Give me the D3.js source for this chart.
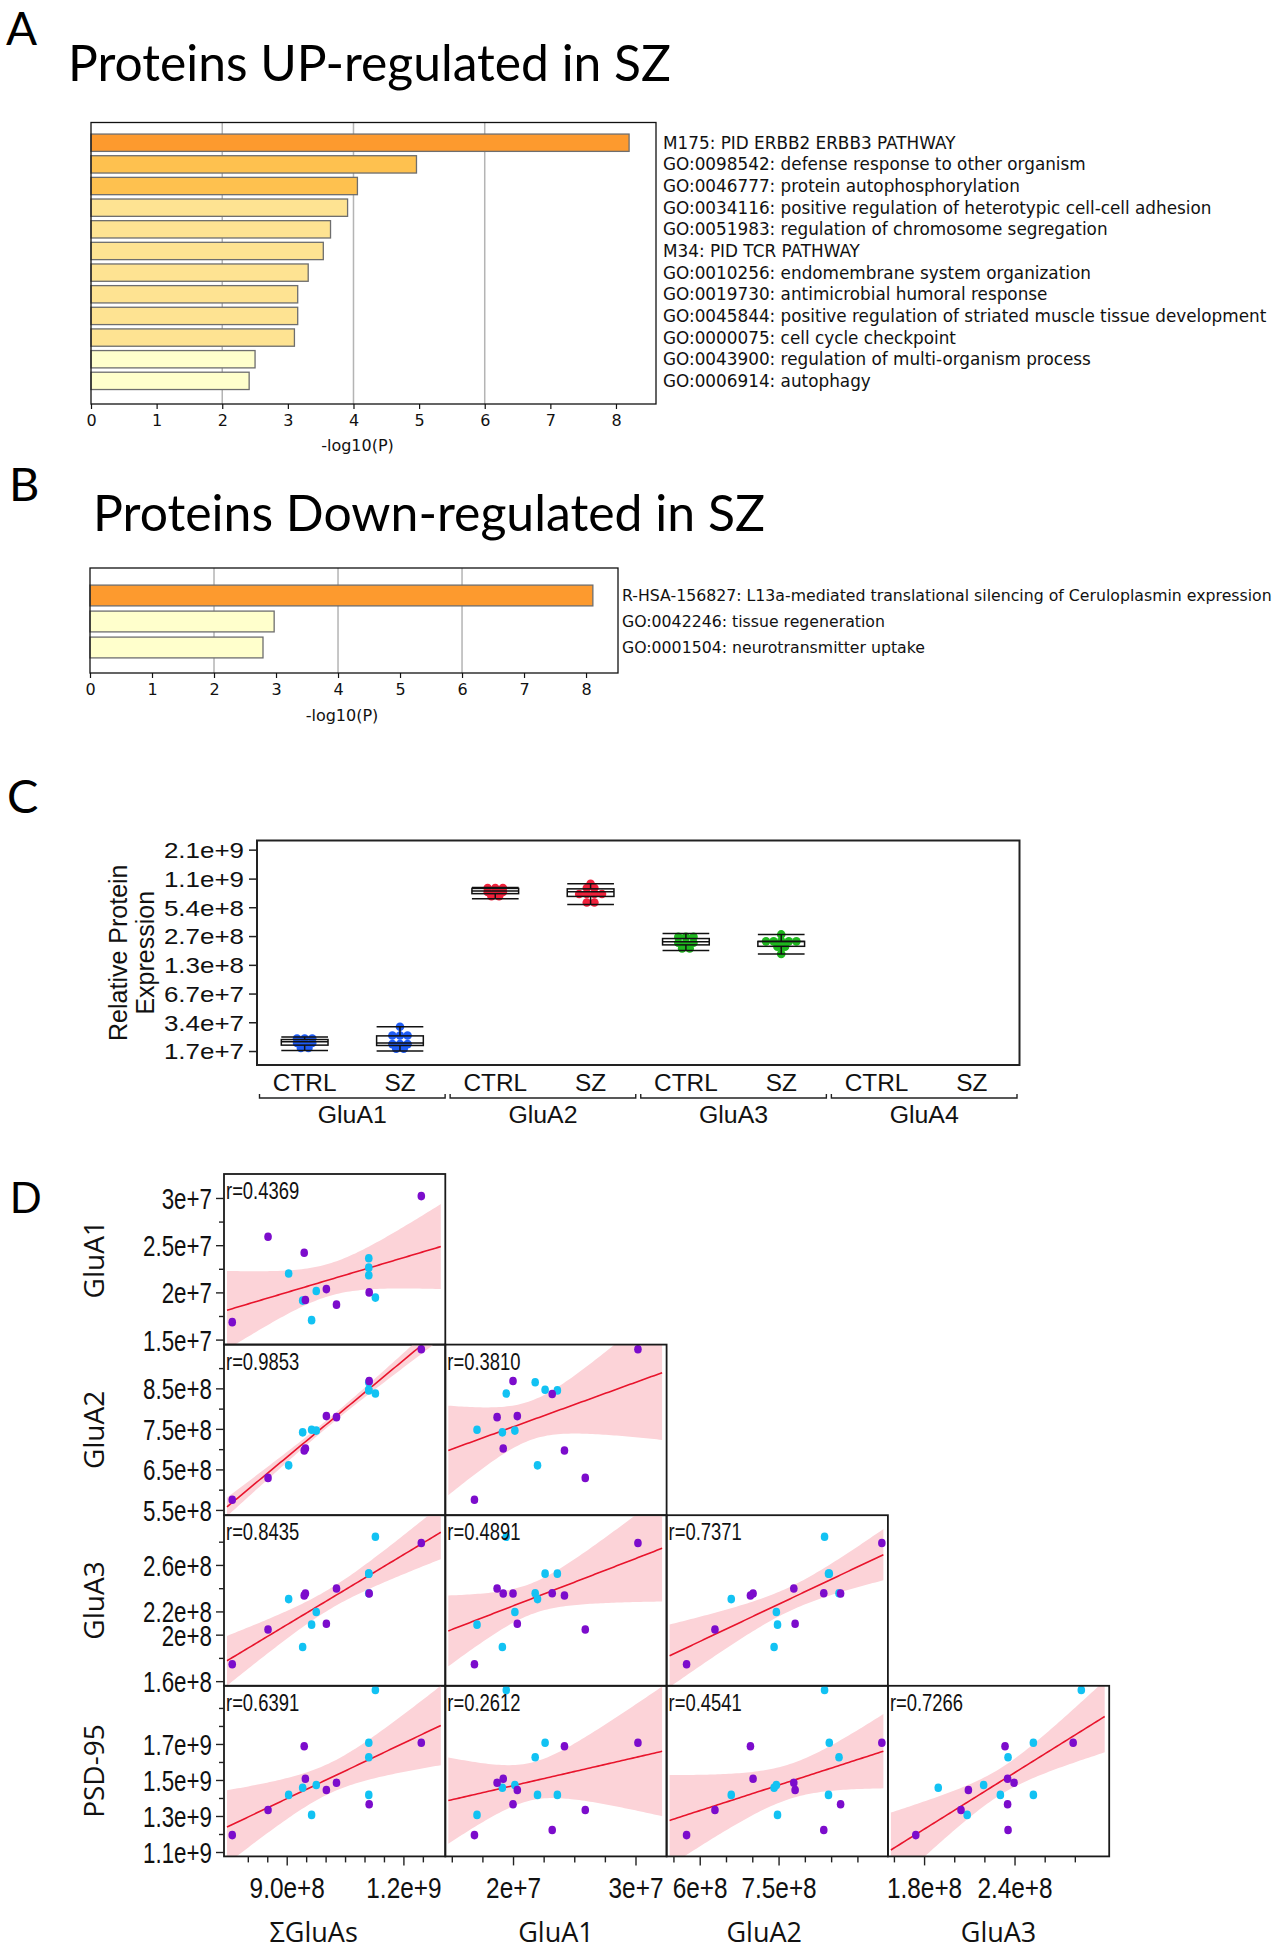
<!DOCTYPE html>
<html>
<head>
<meta charset="utf-8">
<script src="https://cdn.jsdelivr.net/npm/d3@7/dist/d3.min.js"></script>
<style>
html,body{margin:0;padding:0;background:#fff;}
svg{display:block;}
</style>
</head>
<body>
<svg id="fig" width="1277" height="1950" xmlns="http://www.w3.org/2000/svg"></svg>
<script>
// ===================== DATA =====================
const upTerms = [
  "M175: PID ERBB2 ERBB3 PATHWAY",
  "GO:0098542: defense response to other organism",
  "GO:0046777: protein autophosphorylation",
  "GO:0034116: positive regulation of heterotypic cell-cell adhesion",
  "GO:0051983: regulation of chromosome segregation",
  "M34: PID TCR PATHWAY",
  "GO:0010256: endomembrane system organization",
  "GO:0019730: antimicrobial humoral response",
  "GO:0045844: positive regulation of striated muscle tissue development",
  "GO:0000075: cell cycle checkpoint",
  "GO:0043900: regulation of multi-organism process",
  "GO:0006914: autophagy"
];
const upLogP = [8.20, 4.96, 4.06, 3.91, 3.65, 3.54, 3.31, 3.15, 3.15, 3.10, 2.50, 2.41];

const downTerms = [
  "R-HSA-156827: L13a-mediated translational silencing of Ceruloplasmin expression",
  "GO:0042246: tissue regeneration",
  "GO:0001504: neurotransmitter uptake"
];
const downLogP = [8.11, 2.97, 2.79];

const enrichTicks = [0, 1, 2, 3, 4, 5, 6, 7, 8];
const enrichGrid = [2, 4, 6];

// per-sample measurements (9 SZ, 8 CTRL); null = not shown
const sampleGroup = ["SZ","SZ","SZ","SZ","SZ","SZ","SZ","SZ","SZ",
                     "CTRL","CTRL","CTRL","CTRL","CTRL","CTRL","CTRL","CTRL"];
const sumGluAs = [7.60e8, 1.028e9, 9.48e8, 1.112e9, 1.002e9, null, 9.45e8, 8.52e8, 1.246e9,
                  9.64e8, 9.41e8, 1.128e9, 9.76e8, 1.111e9, 9.05e8, 1.111e9, 1.111e9];
const gluA1 = [1.685e7, 1.870e7, 1.920e7, 2.000e7, 2.035e7, 2.320e7, 2.420e7, 2.590e7, 3.020e7,
               1.706e7, 1.913e7, 1.945e7, 2.015e7, 2.181e7, 2.200e7, 2.262e7, 2.362e7];
const gluA2 = [5.75e8, 7.79e8, 7.015e8, 8.68e8, 7.815e8, 8.36e8, 6.965e8, 6.29e8, 9.465e8,
               7.48e8, 7.415e8, 8.375e8, 7.458e8, 8.65e8, 6.60e8, 8.465e8, 8.45e8];
const gluA3 = [1.745e8, 2.397e8, 2.354e8, 2.354e8, 2.094e8, 2.357e8, 2.337e8, 2.045e8, 2.789e8,
               2.086e8, 1.894e8, 2.843e8, 2.195e8, 2.357e8, 2.306e8, 2.525e8, 2.525e8];
const psd95 = [1.194e9, 1.485e9, 1.507e9, 1.365e9, 1.444e9, 1.222e9, 1.687e9, 1.333e9, 1.707e9,
               1.306e9, 1.457e9, 2.0e9, 1.472e9, 1.626e9, 1.417e9, 1.707e9, 1.417e9];

// panel C
const cProteins = ["GluA1", "GluA2", "GluA3", "GluA4"];
const cConditions = ["CTRL", "SZ"];
const cTickValues = [1.68e7, 3.36e7, 6.71e7, 1.34e8, 2.68e8, 5.37e8, 1.07e9, 2.15e9];
const cTickLabels = ["1.7e+7", "3.4e+7", "6.7e+7", "1.3e+8", "2.7e+8", "5.4e+8", "1.1e+9", "2.1e+9"];

// panel D
const dRowVars = ["GluA1", "GluA2", "GluA3", "PSD-95"];
const dColVars = ["ΣGluAs", "GluA1", "GluA2", "GluA3"];
const rLabels = [["r=0.4369"],
                 ["r=0.9853", "r=0.3810"],
                 ["r=0.8435", "r=0.4891", "r=0.7371"],
                 ["r=0.6391", "r=0.2612", "r=0.4541", "r=0.7266"]];
const sumTicks = [8e8, 8.5e8, 9e8, 9.5e8, 1e9, 1.05e9, 1.1e9, 1.15e9, 1.2e9, 1.25e9];
const sumColLabels = ["", "", "9.0e+8", "", "", "", "", "", "1.2e+9", ""];
const a1Ticks = [1.5e7, 1.75e7, 2e7, 2.25e7, 2.5e7, 2.75e7, 3e7];
const a1RowLabels = ["1.5e+7", "", "2e+7", "", "2.5e+7", "", "3e+7"];
const a1ColLabels = ["", "", "2e+7", "", "", "", "3e+7"];
const a2Ticks = [5.5e8, 6e8, 6.5e8, 7e8, 7.5e8, 8e8, 8.5e8, 9e8];
const a2RowLabels = ["5.5e+8", "", "6.5e+8", "", "7.5e+8", "", "8.5e+8", ""];
const a2ColLabels = ["", "6e+8", "", "", "7.5e+8", "", "", ""];
const a3Ticks = [1.6e8, 1.8e8, 2e8, 2.2e8, 2.4e8, 2.6e8, 2.8e8];
const a3RowLabels = ["1.6e+8", "", "2e+8", "2.2e+8", "", "2.6e+8", ""];
const a3ColLabels = ["", "1.8e+8", "", "", "2.4e+8", "", ""];
const psdTicks = [1.1e9, 1.2e9, 1.3e9, 1.4e9, 1.5e9, 1.6e9, 1.7e9, 1.8e9, 1.9e9];
const psdRowLabels = ["1.1e+9", "", "1.3e+9", "", "1.5e+9", "", "1.7e+9", "", ""];

// ===================== STYLE / HELPERS =====================
const TITLE_FONT = "Lato, 'Open Sans', sans-serif";
const DV_FONT = "'DejaVu Sans', sans-serif";
const ARIAL = "'Liberation Sans', Arial, Helvetica, sans-serif";
const svg = d3.select("#fig");

function scaleWidth(sel, k) {
  sel.each(function () {
    const w = this.getComputedTextLength();
    if (w > 0) {
      this.setAttribute("textLength", w * k);
      this.setAttribute("lengthAdjust", "spacingAndGlyphs");
    }
  });
}

// ===================== LETTERS & TITLES =====================
function letter(t, x, y, font, size) {
  svg.append("text").attr("x", x).attr("y", y).attr("font-family", font)
    .attr("font-size", size).attr("fill", "#000").text(t);
}
letter("A", 6, 45, TITLE_FONT, 46);
letter("B", 9, 501, TITLE_FONT, 47);
letter("C", 7, 813, TITLE_FONT, 47);
letter("D", 10, 1213, ARIAL, 44);

function title(t, x, y, len) {
  svg.append("text").attr("x", x).attr("y", y).attr("font-family", TITLE_FONT)
    .attr("font-size", 50).attr("fill", "#000")
    .attr("textLength", len).attr("lengthAdjust", "spacingAndGlyphs").text(t);
}
title("Proteins UP-regulated in SZ", 68, 81, 603);
title("Proteins Down-regulated in SZ", 93, 531, 672);

// ===================== ENRICHMENT PANELS =====================
const enrichColor = d3.scaleThreshold().domain([3, 4, 6])
  .range(["#ffffcc", "#fee392", "#fec14f", "#fd9a2e"]);

function drawEnrich(terms, vals, L) {
  const g = svg.append("g");
  const x = d3.scaleLinear().domain([0, d3.max(vals) * 1.05]).range([L.x0, L.x1]);
  const y = d3.scaleBand().domain(terms).range(L.band).paddingInner(0.2).paddingOuter(0.1);

  g.selectAll("line.grid").data(enrichGrid).join("line").attr("class", "grid")
    .attr("x1", d => x(d)).attr("x2", d => x(d)).attr("y1", L.y0).attr("y2", L.y1)
    .attr("stroke", "#b4b4b4").attr("stroke-width", 1.5);

  g.selectAll("rect.bar").data(vals).join("rect").attr("class", "bar")
    .attr("x", x(0)).attr("y", (d, i) => y(terms[i]))
    .attr("width", d => x(d) - x(0)).attr("height", y.bandwidth())
    .attr("fill", d => enrichColor(d)).attr("stroke", "#6e6e6e").attr("stroke-width", 1.3);

  g.append("rect").attr("x", L.x0).attr("y", L.y0).attr("width", L.x1 - L.x0)
    .attr("height", L.y1 - L.y0).attr("fill", "none").attr("stroke", "#111").attr("stroke-width", 1.3);

  const ax = g.append("g").attr("transform", `translate(0,${L.y1})`)
    .call(d3.axisBottom(x).tickValues(enrichTicks).tickSize(5).tickPadding(6).tickFormat(d3.format("d")));
  ax.select(".domain").remove();
  ax.selectAll(".tick line").attr("stroke", "#111").attr("stroke-width", 1.2);
  ax.selectAll("text").attr("font-family", DV_FONT).attr("font-size", L.tickSize).attr("fill", "#111");

  g.append("text").attr("x", (x(0) + x(8)) / 2 + 4).attr("y", L.xlabY).attr("text-anchor", "middle")
    .attr("font-family", DV_FONT).attr("font-size", L.tickSize).attr("fill", "#111").text("-log10(P)");

  const labs = g.selectAll("text.term").data(terms).join("text").attr("class", "term")
    .attr("x", L.labX).attr("y", d => y(d) + y.bandwidth() / 2).attr("dy", "0.36em")
    .attr("font-family", DV_FONT).attr("font-size", 16).attr("fill", "#111").text(d => d);
  let maxW = 0;
  labs.each(function () { maxW = Math.max(maxW, this.getComputedTextLength()); });
  labs.attr("font-size", 16 * L.labW / maxW);
}

drawEnrich(upTerms, upLogP, {
  x0: 91, x1: 656, y0: 122.5, y1: 404, band: [131.9, 391.7],
  labX: 663, labW: 604, xlabY: 451, tickSize: 16
});
drawEnrich(downTerms, downLogP, {
  x0: 90, x1: 618, y0: 568, y1: 673, band: [582.5, 660.5],
  labX: 622, labW: 650, xlabY: 721, tickSize: 16
});

// ===================== PANEL C =====================
(function () {
  const B = { x0: 257, x1: 1019.5, y0: 840.5, y1: 1065 };
  const g = svg.append("g");
  const cats = [];
  cProteins.forEach(p => cConditions.forEach(c => cats.push(p + "|" + c)));
  const x = d3.scaleBand().domain(cats).range([B.x0, B.x1]);
  const y = d3.scaleLog().base(2).domain([1.2e7, 2.68e9]).range([B.y1, B.y0]);
  const protVals = { GluA1: gluA1, GluA2: gluA2, GluA3: gluA3 };
  const protColor = { GluA1: "#1f5cf5", GluA2: "#f0213b", GluA3: "#1fb81f" };
  const bw = x.bandwidth(), boxW = bw * 0.49;

  Object.keys(protVals).forEach(p => {
    cConditions.forEach(c => {
      const vals = protVals[p].filter((v, i) => sampleGroup[i] === c && v != null);
      const cx = x(p + "|" + c) + bw / 2;
      const sorted = vals.slice().sort((a, b) => a - b);
      const pts = [];
      let cluster = [];
      const flush = () => {
        const cy = d3.mean(cluster, v => y(v));
        cluster.forEach((v, k) => pts.push({ v, cy, dx: (k - (cluster.length - 1) / 2) * 7.6 }));
        cluster = [];
      };
      sorted.forEach(v => {
        if (cluster.length && Math.abs(y(cluster[0]) - y(v)) > 5) flush();
        cluster.push(v);
      });
      flush();
      g.selectAll(null).data(pts).join("circle")
        .attr("cx", d => cx + d.dx).attr("cy", d => d.cy).attr("r", 4.3)
        .attr("fill", protColor[p]);

      const q1 = d3.quantile(sorted, 0.25), q2 = d3.quantile(sorted, 0.5), q3 = d3.quantile(sorted, 0.75);
      const mn = d3.min(sorted), mx = d3.max(sorted);
      const bg = g.append("g").attr("stroke", "#111").attr("stroke-width", 1.5).attr("fill", "none");
      bg.append("line").attr("x1", cx).attr("x2", cx).attr("y1", y(mx)).attr("y2", y(q3));
      bg.append("line").attr("x1", cx).attr("x2", cx).attr("y1", y(q1)).attr("y2", y(mn));
      [mn, mx, q2].forEach(v => bg.append("line").attr("x1", cx - boxW / 2).attr("x2", cx + boxW / 2)
        .attr("y1", y(v)).attr("y2", y(v)));
      bg.append("rect").attr("x", cx - boxW / 2).attr("width", boxW)
        .attr("y", y(q3)).attr("height", y(q1) - y(q3));
    });
  });

  g.append("rect").attr("x", B.x0).attr("y", B.y0).attr("width", B.x1 - B.x0).attr("height", B.y1 - B.y0)
    .attr("fill", "none").attr("stroke", "#222").attr("stroke-width", 2);

  const ay = g.append("g").attr("transform", `translate(${B.x0},0)`)
    .call(d3.axisLeft(y).tickValues(cTickValues).tickSize(8).tickPadding(5)
      .tickFormat((d, i) => cTickLabels[i]));
  ay.select(".domain").remove();
  ay.selectAll(".tick line").attr("stroke", "#222").attr("stroke-width", 1.5);
  ay.selectAll("text").attr("font-family", ARIAL).attr("font-size", 22).attr("fill", "#111")
    .attr("dy", "0.36em");
  scaleWidth(ay.selectAll("text"), 1.18);

  const ax = g.append("g").attr("transform", `translate(0,${B.y1})`)
    .call(d3.axisBottom(x).tickSize(0).tickPadding(10).tickFormat(d => d.split("|")[1]));
  ax.select(".domain").remove();
  ax.selectAll("text").attr("font-family", ARIAL).attr("font-size", 23).attr("fill", "#111");
  scaleWidth(ax.selectAll("text"), 1.06);

  cProteins.forEach(p => {
    const a = x(p + "|CTRL") + 2.5, b = x(p + "|SZ") + bw - 2.5, yb = 1098;
    g.append("path").attr("d", `M${a},${yb - 4}V${yb}H${b}V${yb - 4}`)
      .attr("fill", "none").attr("stroke", "#222").attr("stroke-width", 1.4);
    const t = g.append("text").attr("x", (a + b) / 2).attr("y", 1123).attr("text-anchor", "middle")
      .attr("font-family", ARIAL).attr("font-size", 23).attr("fill", "#111").text(p);
    scaleWidth(t, 1.08);
  });

  const yl = g.append("g").attr("font-family", ARIAL).attr("font-size", 25).attr("fill", "#111")
    .attr("text-anchor", "middle");
  yl.append("text").attr("transform", `translate(127,${(B.y0 + B.y1) / 2}) rotate(-90)`).text("Relative Protein");
  yl.append("text").attr("transform", `translate(154,${(B.y0 + B.y1) / 2}) rotate(-90)`).text("Expression");
})();

// ===================== PANEL D =====================
(function () {
  const D = { x0: 224, y0: 1174, cw: 221.3, ch: 170.6 };
  const g = svg.append("g");
  const varValues = { "ΣGluAs": sumGluAs, "GluA1": gluA1, "GluA2": gluA2, "GluA3": gluA3, "PSD-95": psd95 };
  const varDomain = {
    "ΣGluAs": [7.388e8, 1.3077e9], "GluA1": [1.447e7, 3.254e7], "GluA2": [5.37e8, 9.58e8],
    "GluA3": [1.56e8, 3.028e8], "PSD-95": [1.0756e9, 2.023e9]
  };
  const tTable = { 13: 2.160, 14: 2.145, 15: 2.131, 16: 2.120 };
  const colX = j => D.x0 + j * D.cw;
  const rowY = i => D.y0 + i * D.ch;
  const xs = dColVars.map((v, j) => d3.scaleLinear().domain(varDomain[v]).range([colX(j), colX(j) + D.cw]));
  const ys = dRowVars.map((v, i) => d3.scaleLinear().domain(varDomain[v]).range([rowY(i) + D.ch, rowY(i)]));
  const groupColor = { SZ: "#7c0ccc", CTRL: "#12c2f3" };
  const order = d3.range(sampleGroup.length).sort((a, b) =>
    (sampleGroup[a] === "CTRL" ? 0 : 1) - (sampleGroup[b] === "CTRL" ? 0 : 1));

  dRowVars.forEach((rv, i) => {
    dColVars.forEach((cv, j) => {
      if (j > i) return;
      const x = xs[j], y = ys[i];
      const Xa = varValues[cv], Ya = varValues[rv];
      const idx = order.filter(k => Xa[k] != null && Ya[k] != null);
      const X = idx.map(k => Xa[k]), Y = idx.map(k => Ya[k]);
      const left = colX(j), top = rowY(i);
      const id = `clip${i}${j}`;
      g.append("clipPath").attr("id", id).append("rect")
        .attr("x", left).attr("y", top).attr("width", D.cw).attr("height", D.ch);
      const cell = g.append("g").attr("clip-path", `url(#${id})`);

      // least squares fit with 95% confidence band of the mean
      const n = X.length, mx = d3.mean(X), my = d3.mean(Y);
      let sxx = 0, sxy = 0;
      X.forEach((xv, k) => { sxx += (xv - mx) ** 2; sxy += (xv - mx) * (Y[k] - my); });
      const b = sxy / sxx, a = my - b * mx;
      let sse = 0;
      X.forEach((xv, k) => { sse += (Y[k] - a - b * xv) ** 2; });
      const s = Math.sqrt(sse / (n - 2));
      const t = tTable[n - 2] || 2.13;
      const xa = x.invert(left + 3), xb = x.invert(left + D.cw - 4.5);
      const grid = d3.range(81).map(k => xa + (xb - xa) * k / 80);
      const band = grid.map(xv => {
        const f = a + b * xv;
        const h = t * s * Math.sqrt(1 / n + (xv - mx) ** 2 / sxx);
        return { xv, lo: f - h, hi: f + h, f };
      });
      cell.append("path").datum(band)
        .attr("d", d3.area().x(d => x(d.xv)).y0(d => y(d.lo)).y1(d => y(d.hi)))
        .attr("fill", "#fcd3d8");
      cell.append("path").datum(band)
        .attr("d", d3.line().x(d => x(d.xv)).y(d => y(d.f)))
        .attr("fill", "none").attr("stroke", "#e8142c").attr("stroke-width", 1.6);

      cell.selectAll(null).data(idx).join("ellipse")
        .attr("cx", k => x(Xa[k])).attr("cy", k => y(Ya[k])).attr("rx", 3.8).attr("ry", 4.3)
        .attr("fill", k => groupColor[sampleGroup[k]]);

      g.append("rect").attr("x", left).attr("y", top).attr("width", D.cw).attr("height", D.ch)
        .attr("fill", "none").attr("stroke", "#1a1a1a").attr("stroke-width", 1.8);

      const rt = g.append("text").attr("x", left + 2).attr("y", top + 25)
        .attr("font-family", ARIAL).attr("font-size", 23).attr("fill", "#111").text(rLabels[i][j]);
      scaleWidth(rt, 0.8);
    });
  });

  const rowTicks = [[a1Ticks, a1RowLabels], [a2Ticks, a2RowLabels], [a3Ticks, a3RowLabels], [psdTicks, psdRowLabels]];
  const colTicks = [[sumTicks, sumColLabels], [a1Ticks, a1ColLabels], [a2Ticks, a2ColLabels], [a3Ticks, a3ColLabels]];

  function styleAxis(ax, k) {
    ax.select(".domain").remove();
    ax.selectAll(".tick line").attr("stroke", "#222").attr("stroke-width", 1.4);
    ax.selectAll("text").attr("font-family", ARIAL).attr("font-size", 29).attr("fill", "#111");
    scaleWidth(ax.selectAll("text"), k);
  }

  rowTicks.forEach(([tv, tl], i) => {
    const major = tv.filter((v, k) => tl[k] !== ""), majorL = tl.filter(t => t !== "");
    const minor = tv.filter((v, k) => tl[k] === "");
    const a1 = g.append("g").attr("transform", `translate(${D.x0},0)`)
      .call(d3.axisLeft(ys[i]).tickValues(major).tickSize(8).tickPadding(4).tickFormat((d, k) => majorL[k]));
    a1.selectAll("text").attr("dy", "0.36em");
    styleAxis(a1, 0.77);
    const a2 = g.append("g").attr("transform", `translate(${D.x0},0)`)
      .call(d3.axisLeft(ys[i]).tickValues(minor).tickSize(5).tickFormat(""));
    styleAxis(a2, 1);
    g.append("text").attr("transform", `translate(104,${rowY(i) + D.ch / 2}) rotate(-90)`)
      .attr("text-anchor", "middle").attr("font-family", "'Open Sans', Lato, sans-serif")
      .attr("font-size", 28).attr("fill", "#111").text(dRowVars[i]);
  });

  const bottom = rowY(3) + D.ch;
  const colLabelShift = [-21, 0, -13, 0];
  colTicks.forEach(([tv, tl], j) => {
    const major = tv.filter((v, k) => tl[k] !== ""), majorL = tl.filter(t => t !== "");
    const minor = tv.filter((v, k) => tl[k] === "");
    const a1 = g.append("g").attr("transform", `translate(0,${bottom})`)
      .call(d3.axisBottom(xs[j]).tickValues(major).tickSize(9).tickPadding(12).tickFormat((d, k) => majorL[k]));
    styleAxis(a1, 0.84);
    const a2 = g.append("g").attr("transform", `translate(0,${bottom})`)
      .call(d3.axisBottom(xs[j]).tickValues(minor).tickSize(6).tickFormat(""));
    styleAxis(a2, 1);
    g.append("text").attr("x", colX(j) + D.cw / 2 + colLabelShift[j]).attr("y", 1942)
      .attr("text-anchor", "middle").attr("font-family", "'Open Sans', Lato, sans-serif")
      .attr("font-size", 27).attr("fill", "#111").text(dColVars[j]);
  });
})();
</script>
</body>
</html>
